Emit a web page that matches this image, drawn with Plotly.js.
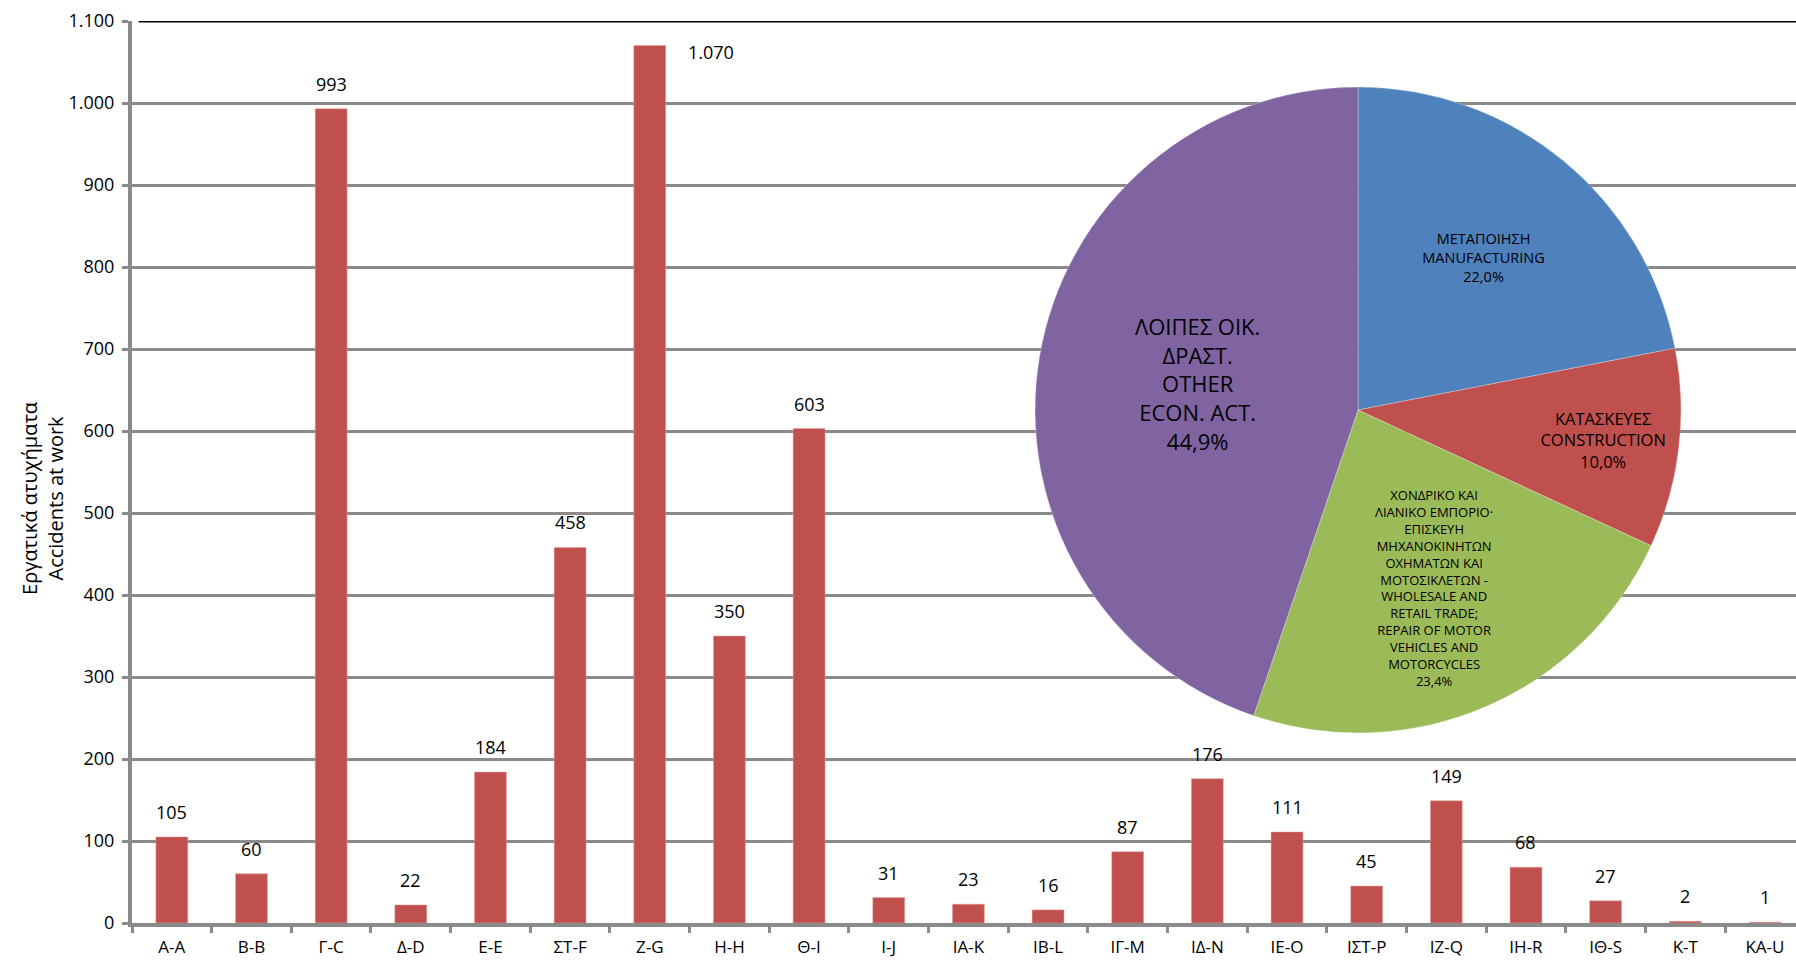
<!DOCTYPE html>
<html>
<head>
<meta charset="utf-8">
<script src="https://cdn.plot.ly/plotly-3.0.1.min.js"></script>
<style>html,body{margin:0;padding:0;background:#fff;}#chart{width:1796px;height:961px;}</style>
</head>
<body>
<div id="chart"></div>
<script>
// ---- data ----
const categories = ['Α-A','Β-B','Γ-C','Δ-D','Ε-E','ΣΤ-F','Ζ-G','Η-H','Θ-I','Ι-J','ΙΑ-K','ΙΒ-L','ΙΓ-M','ΙΔ-N','ΙΕ-O','ΙΣΤ-P','ΙΖ-Q','ΙΗ-R','ΙΘ-S','Κ-T','ΚΑ-U'];
const accidents = [105,60,993,22,184,458,1070,350,603,31,23,16,87,176,111,45,149,68,27,2,1];
const yTickValues = [0,100,200,300,400,500,600,700,800,900,1000,1100];
const yTitle = 'Εργατικά ατυχήματα<br>Accidents at work';

const pieLabels = [
  'ΜΕΤΑΠΟΙΗΣΗ<br>MANUFACTURING',
  'ΚΑΤΑΣΚΕΥΕΣ<br>CONSTRUCTION',
  'ΧΟΝΔΡΙΚΟ ΚΑΙ<br>ΛΙΑΝΙΚΟ ΕΜΠΟΡΙΟ·<br>ΕΠΙΣΚΕΥΗ<br>ΜΗΧΑΝΟΚΙΝΗΤΩΝ<br>ΟΧΗΜΑΤΩΝ ΚΑΙ<br>ΜΟΤΟΣΙΚΛΕΤΩΝ -<br>WHOLESALE AND<br>RETAIL TRADE;<br>REPAIR OF MOTOR<br>VEHICLES AND<br>MOTORCYCLES',
  'ΛΟΙΠΕΣ ΟΙΚ.<br>ΔΡΑΣΤ.<br>OTHER<br>ECON. ACT.'
];
const pieShares = [22.0, 10.0, 23.4, 44.9];

// ---- styles ----
const FONT = 'Open Sans, Noto Sans, sans-serif';
const BAR_COLOR = '#C0504D';
const PIE_COLORS = ['#4F81BD', '#C0504D', '#9BBB59', '#8064A2'];
const PIE_FONT_SIZES = [14.5, 16.5, 13, 22];
const GRID = '#8a8a8a';

function fmt(v){ return String(v).replace(/\B(?=(\d{3})+(?!\d))/g, '.'); }

const barTrace = {
  type: 'bar',
  x: categories,
  y: accidents,
  marker: {color: BAR_COLOR, line: {color: '#e6a09e', width: 0.5}},
  width: 0.4,
  hoverinfo: 'none'
};

const pieTrace = {
  type: 'pie',
  labels: pieLabels,
  values: pieShares,
  sort: false,
  direction: 'clockwise',
  rotation: 0,
  marker: {colors: PIE_COLORS, line: {color: 'rgba(255,255,255,0.35)', width: 0.8}},
  textinfo: 'text',
  texttemplate: '%{label}<br>%{value:.1f}%',
  textposition: 'inside',
  insidetextorientation: 'horizontal',
  textfont: {family: FONT, size: PIE_FONT_SIZES, color: '#000'},
  domain: {x: [0.5427, 0.9309], y: [0.2106, 0.9268]},
  showlegend: false,
  hoverinfo: 'none'
};

const annotations = categories.map((c, i) => {
  const v = accidents[i];
  const topClip = v > 1050;
  return {
    x: c, y: v, xref: 'x', yref: 'y',
    text: fmt(v), showarrow: false,
    font: {family: FONT, size: 18, color: '#000'},
    xanchor: topClip ? 'left' : 'center',
    yanchor: 'middle',
    xshift: topClip ? 36 : 0,
    yshift: topClip ? -6 : 25
  };
});
// y-axis title (two lines, rotated)
annotations.push({
  xref: 'paper', yref: 'paper', x: -0.0535, y: 0.4712,
  xanchor: 'center', yanchor: 'middle', textangle: -90,
  text: yTitle, showarrow: false,
  font: {family: FONT, size: 20, color: '#000'}
});

const layout = {
  width: 1796, height: 961,
  margin: {l: 132, r: 0, t: 21, b: 38, pad: 0},
  paper_bgcolor: '#fff', plot_bgcolor: '#fff',
  separators: ',.',
  showlegend: false,
  font: {family: FONT, size: 17, color: '#000'},
  bargap: 0.6,
  xaxis: {
    type: 'category',
    range: [-0.5, 20.39],
    showline: true, linecolor: GRID, linewidth: 4,
    ticks: 'outside', tickson: 'boundaries', ticklen: 6, tickwidth: 3, tickcolor: GRID,
    showgrid: false, zeroline: false,
    ticklabelstandoff: 6,
    tickfont: {family: FONT, size: 17, color: '#000'},
    fixedrange: true
  },
  yaxis: {
    range: [0, 1100],
    tickvals: yTickValues,
    tickformat: ',d',
    showline: true, linecolor: GRID, linewidth: 4,
    ticks: 'outside', ticklen: 6, tickwidth: 3, tickcolor: GRID,
    showgrid: true, gridcolor: GRID, gridwidth: 3,
    zeroline: false,
    ticklabelstandoff: 4,
    tickfont: {family: FONT, size: 18, color: '#000'},
    fixedrange: true
  },
  shapes: [{
    type: 'line', xref: 'paper', yref: 'y', x0: 0.004, x1: 1, y0: 1100, y1: 1100,
    line: {color: '#000', width: 3}
  }],
  annotations: annotations
};

Plotly.newPlot('chart', [barTrace, pieTrace], layout, {displayModeBar: false, staticPlot: true});
</script>
</body>
</html>
